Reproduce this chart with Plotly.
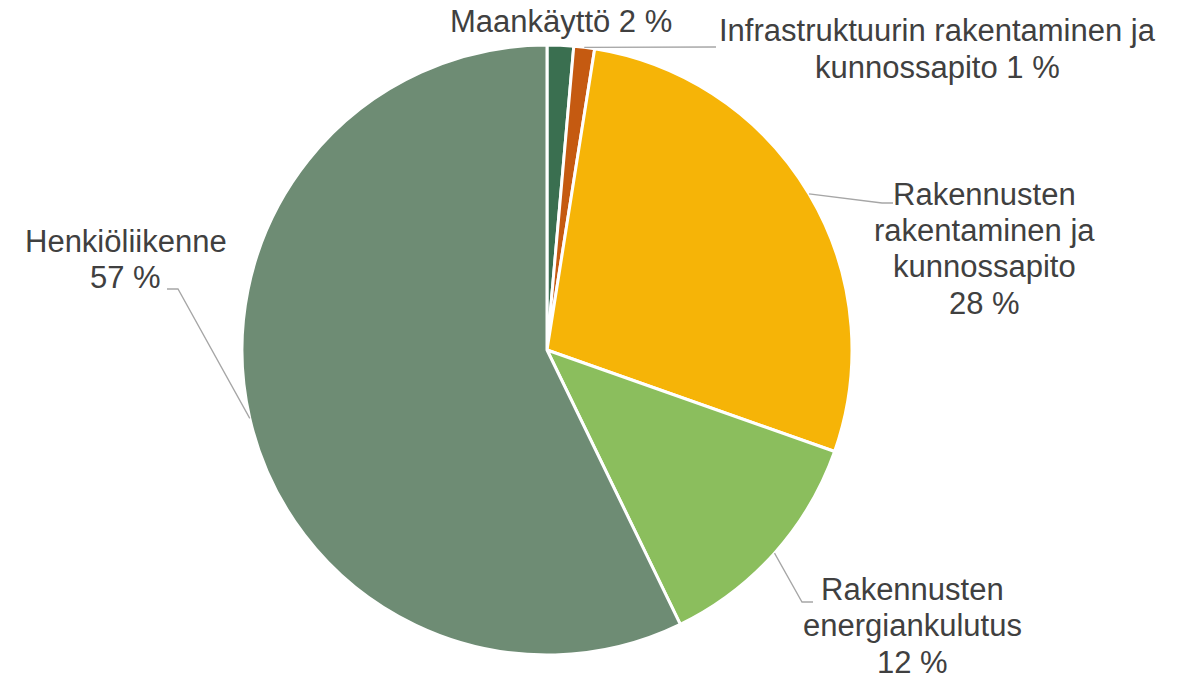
import math
import plotly.graph_objects as go

# ---- data ----
categories = ["Maankäyttö", "Infrastruktuurin rakentaminen ja kunnossapito",
              "Rakennusten rakentaminen ja kunnossapito", "Rakennusten energiankulutus",
              "Henkiöliikenne"]
values = [1.4, 1.1, 27.9, 12.4, 57.2]
pct_labels = ["2 %", "1 %", "28 %", "12 %", "57 %"]
label_lines = [
    ["Maankäyttö 2 %"],
    ["Infrastruktuurin rakentaminen ja", "kunnossapito 1 %"],
    ["Rakennusten", "rakentaminen ja", "kunnossapito", "28 %"],
    ["Rakennusten", "energiankulutus", "12 %"],
    ["Henkiöliikenne", "57 %"],
]
colors = ["#3A6F50", "#C55A11", "#F6B407", "#8BBE5D", "#6E8C74"]

# ---- layout (pixels) ----
W, H = 1187, 679
CX, CY, R = 547, 350, 305
FONT = 31
LINE_H = 36.5
label_pos = [(561, 22), (937, 31), (984, 194), (912, 589), (126, 241)]
# leader-line bends (after start on pie edge); None = no leader
leader_bends = [None, [(716, 47)], [(882, 203), (893, 203)],
                [(802, 602), (813, 602)], [(178, 289), (167, 289)]]

def px(x):
    return x / W

def py(y):
    return 1 - y / H

fig = go.Figure(go.Pie(
    labels=categories, values=values, sort=False, direction="clockwise",
    rotation=0, textinfo="none", hoverinfo="label+percent",
    marker=dict(colors=colors, line=dict(color="white", width=3)),
    domain=dict(x=[px(CX - R), px(CX + R)], y=[py(CY + R), py(CY - R)]),
    showlegend=False,
))

annotations = []
for (x, y), lines in zip(label_pos, label_lines):
    for i, t in enumerate(lines):
        annotations.append(dict(
            x=px(x), y=py(y + i * LINE_H), xref="paper", yref="paper",
            text=t, showarrow=False, xanchor="center", yanchor="middle",
            font=dict(family="Liberation Sans, Arial", size=FONT, color="#404040"),
        ))

shapes = []
total = sum(values)
cum = 0
for v, bends in zip(values, leader_bends):
    mid = (cum + v / 2) / total * 2 * math.pi
    cum += v
    if bends is None:
        continue
    sx = CX + R * math.sin(mid)
    sy = CY - R * math.cos(mid)
    pts = [(sx, sy)] + bends
    path = "M " + " L ".join(f"{px(a):.5f},{py(b):.5f}" for a, b in pts)
    shapes.append(dict(type="path", path=path, xref="paper", yref="paper",
                       line=dict(color="#A6A6A6", width=1.3)))

fig.update_layout(
    width=W, height=H, margin=dict(l=0, r=0, t=0, b=0),
    paper_bgcolor="white", plot_bgcolor="white",
    annotations=annotations, shapes=shapes,
)
fig.write_html("out.html", config={"displayModeBar": False},
               post_script="document.body.style.margin='0px';document.body.style.overflow='hidden';")
